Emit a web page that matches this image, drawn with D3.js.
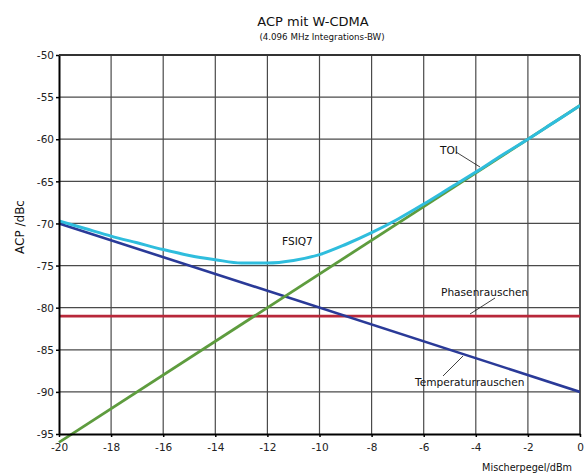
<!DOCTYPE html>
<html>
<head>
<meta charset="utf-8">
<script src="https://cdn.jsdelivr.net/npm/d3@7"></script>
<style>
  html, body { margin: 0; padding: 0; background: #fff; }
  svg { display: block; font-family: "DejaVu Sans", sans-serif; }
</style>
</head>
<body>
<svg id="chart" width="587" height="475"></svg>
<script>
// Mixer level (dBm) sampled every 1 dB
const mixerLevel = [-20,-19,-18,-17,-16,-15,-14,-13,-12,-11,-10,-9,-8,-7,-6,-5,-4,-3,-2,-1,0];
// Measured ACP of the analyzer (dBc)
const fsiq7 = [-69.7,-70.6,-71.5,-72.3,-73.1,-73.8,-74.3,-74.7,-74.7,-74.4,-73.7,-72.5,-71.1,-69.5,-67.7,-65.8,-63.9,-61.9,-60.0,-58.0,-56.0];
// Straight contributions, given by their end points
const toiLevel = [-20, 0];
const toi = [-96, -56];
const thermalLevel = [-20, 0];
const thermal = [-70, -90];
const phaseLevel = [-20, 0];
const phase = [-81, -81];

const xTicks = [-20,-18,-16,-14,-12,-10,-8,-6,-4,-2,0];
const yTicks = [-95,-90,-85,-80,-75,-70,-65,-60,-55,-50];

const svg = d3.select("#chart");
const x = d3.scaleLinear().domain([-20, 0]).range([59, 580]);
const y = d3.scaleLinear().domain([-95, -50]).range([434, 55]);

// grid
const grid = svg.append("g").attr("stroke", "#4a4a4a").attr("stroke-width", 1.2);
grid.selectAll(".gx").data(xTicks.slice(1, -1)).join("line")
  .attr("x1", d => x(d)).attr("x2", d => x(d))
  .attr("y1", y(-50)).attr("y2", y(-95));
grid.selectAll(".gy").data(yTicks.slice(1)).join("line")
  .attr("x1", x(-20)).attr("x2", x(0))
  .attr("y1", d => y(d)).attr("y2", d => y(d));
// right border
svg.append("line").attr("x1", x(0)).attr("x2", x(0)).attr("y1", y(-50)).attr("y2", y(-95))
  .attr("stroke", "#555").attr("stroke-width", 2);

// series
const line = d3.line().x(d => x(d[0])).y(d => y(d[1]));
const smooth = d3.line().curve(d3.curveMonotoneX).x(d => x(d[0])).y(d => y(d[1]));
const zip = (a, b) => a.map((v, i) => [v, b[i]]);

const clip = svg.append("clipPath").attr("id", "plot").append("rect")
  .attr("x", 0).attr("y", y(-50)).attr("width", x(0)).attr("height", 475 - y(-50));
const series = svg.append("g").attr("fill", "none").attr("clip-path", "url(#plot)");

series.append("path").attr("d", line(zip(phaseLevel, phase)))
  .attr("stroke", "#b8283a").attr("stroke-width", 2.6);
series.append("path").attr("d", line(zip(thermalLevel, thermal)))
  .attr("stroke", "#2a3a98").attr("stroke-width", 2.6);
series.append("path").attr("d", line(zip(toiLevel, toi)))
  .attr("stroke", "#5e9c3e").attr("stroke-width", 2.8);
series.append("path").attr("d", smooth(zip(mixerLevel, fsiq7)))
  .attr("stroke", "#2fbddd").attr("stroke-width", 3);

// axes (labels use a plain hyphen for negatives)
const fmt = d => String(d);
const xAxis = svg.append("g").attr("transform", `translate(0,${y(-95)})`)
  .call(d3.axisBottom(x).tickValues(xTicks).tickSize(3).tickSizeOuter(0).tickFormat(fmt));
const yAxis = svg.append("g").attr("transform", `translate(${x(-20)},0)`)
  .call(d3.axisLeft(y).tickValues(yTicks).tickSize(3).tickSizeOuter(0).tickFormat(fmt));
[xAxis, yAxis].forEach(a => {
  a.select(".domain").attr("stroke", "#000").attr("stroke-width", 2);
  a.selectAll(".tick line").attr("stroke", "#000").attr("stroke-width", 1.5);
  a.selectAll("text").attr("fill", "#222").attr("font-size", 10.5)
    .attr("font-family", "DejaVu Sans, sans-serif");
});
xAxis.selectAll("text").attr("dy", null).attr("y", 17);
yAxis.selectAll("text").attr("x", -5).attr("dy", "0.35em");
// top line
svg.append("line").attr("x1", x(-20)).attr("x2", x(0)).attr("y1", y(-50)).attr("y2", y(-50))
  .attr("stroke", "#333").attr("stroke-width", 1.8);

// titles
svg.append("text").attr("x", 313).attr("y", 26).attr("text-anchor", "middle")
  .attr("font-size", 13).attr("fill", "#111").text("ACP mit W-CDMA");
svg.append("text").attr("x", 322).attr("y", 40).attr("text-anchor", "middle")
  .attr("font-size", 8.7).attr("fill", "#111").text("(4.096 MHz Integrations-BW)");
svg.append("text").attr("transform", "translate(24,227) rotate(-90)").attr("text-anchor", "middle")
  .attr("font-size", 12).attr("fill", "#111").text("ACP /dBc");
svg.append("text").attr("x", 572).attr("y", 471).attr("text-anchor", "end")
  .attr("font-size", 9.7).attr("fill", "#111").text("Mischerpegel/dBm");

// curve annotations
const notes = [
  { text: "TOI", tx: 440, ty: 154, lx1: 456, ly1: 152, lx2: 480, ly2: 167 },
  { text: "FSIQ7", tx: 282, ty: 245 },
  { text: "Phasenrauschen", tx: 441, ty: 296, lx1: 495, ly1: 298, lx2: 470, ly2: 314 },
  { text: "Temperaturrauschen", tx: 415, ty: 386, lx1: 443, ly1: 376, lx2: 463, ly2: 356 }
];
notes.forEach(n => {
  svg.append("text").attr("x", n.tx).attr("y", n.ty).attr("font-size", 10.6)
    .attr("fill", "#111").text(n.text);
  if (n.lx1 !== undefined) {
    svg.append("line").attr("x1", n.lx1).attr("y1", n.ly1).attr("x2", n.lx2).attr("y2", n.ly2)
      .attr("stroke", "#111").attr("stroke-width", 0.8);
  }
});
</script>
</body>
</html>
